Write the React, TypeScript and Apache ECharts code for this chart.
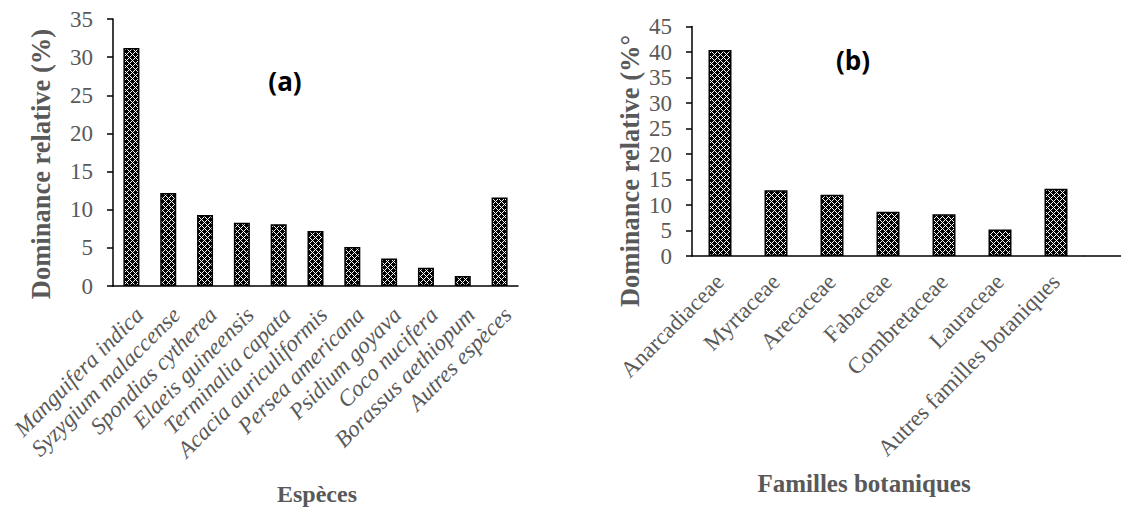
import React, { useEffect, useRef } from "react";
import * as echarts from "echarts";

const speciesCategories = [
  "Manguifera indica",
  "Syzygium malaccense",
  "Spondias cytherea",
  "Elaeis guineensis",
  "Terminalia capata",
  "Acacia auriculiformis",
  "Persea americana",
  "Psidium goyava",
  "Coco nucifera",
  "Borassus aethiopum",
  "Autres espèces",
];
const speciesValues = [31.2, 12.2, 9.3, 8.3, 8.1, 7.2, 5.1, 3.6, 2.4, 1.3, 11.6];

const familyCategories = [
  "Anarcadiaceae",
  "Myrtaceae",
  "Arecaceae",
  "Fabaceae",
  "Combretaceae",
  "Lauraceae",
  "Autres familles botaniques",
];
const familyValues = [40.4, 12.9, 12.0, 8.7, 8.2, 5.2, 13.2];

const GRAY = "#595959";
const SERIF = "'Liberation Serif', 'Times New Roman', serif";

function makePattern() {
  const size = 6;
  const c = document.createElement("canvas");
  c.width = size;
  c.height = size;
  const ctx = c.getContext("2d")!;
  ctx.fillStyle = "#000";
  ctx.fillRect(0, 0, size, size);
  ctx.fillStyle = "#fff";
  for (let x = 0; x < size; x++) {
    for (let y = 0; y < size; y++) {
      if ((x + y) % 6 === 0 || (x - y + 6) % 6 === 0) {
        ctx.fillRect(x, y, 1, 1);
      }
    }
  }
  return { image: c.toDataURL(), repeat: "repeat", imageWidth: size, imageHeight: size };
}

export default function App() {
  const ref = useRef<HTMLDivElement>(null);
  useEffect(() => {
    document.body.style.margin = "0";
    const chart = echarts.init(ref.current!, null, { renderer: "svg" });
    const pattern = makePattern();
    const valueAxis = (max: number, gridIndex: number) => ({
      type: "value",
      gridIndex,
      min: 0,
      max,
      interval: 5,
      axisLine: { show: true, lineStyle: { color: "#000", width: 1.5 } },
      axisTick: { show: true, length: 6, lineStyle: { color: "#000", width: 1.5 } },
      splitLine: { show: false },
      axisLabel: { color: GRAY, fontSize: 23, fontFamily: SERIF, margin: 20 },
    });
    const catAxis = (data: string[], gridIndex: number, italic: boolean) => ({
      type: "category",
      gridIndex,
      data,
      axisLine: { show: true, lineStyle: { color: "#000", width: 1.5 } },
      axisTick: { show: false },
      axisLabel: {
        interval: 0,
        rotate: 45,
        color: GRAY,
        fontSize: 23,
        fontStyle: italic ? "italic" : "normal",
        fontFamily: SERIF,
        margin: italic ? 17 : 22,
        verticalAlign: italic ? "top" : "middle",
        padding: italic ? [0, 0, 0, 0] : [12, 0, 0, 0],
      },
    });
    chart.setOption({
      animation: false,
      backgroundColor: "#fff",
      grid: [
        { left: 113, right: 1121 - 518, top: 19, bottom: 509 - 286 },
        { left: 692, right: 1121 - 1084, top: 26.5, bottom: 509 - 256 },
      ],
      xAxis: [catAxis(speciesCategories, 0, true), catAxis(familyCategories, 1, false)],
      yAxis: [valueAxis(35, 0), valueAxis(45, 1)],
      series: [
        {
          type: "bar",
          xAxisIndex: 0,
          yAxisIndex: 0,
          data: speciesValues,
          barWidth: 16,
          itemStyle: { color: pattern, borderColor: "#000", borderWidth: 1.5 },
        },
        {
          type: "bar",
          xAxisIndex: 1,
          yAxisIndex: 1,
          data: familyValues,
          barWidth: 23,
          itemStyle: { color: pattern, borderColor: "#000", borderWidth: 1.5 },
        },
      ],
      graphic: [
        {
          type: "line",
          shape: { x1: 1084, y1: 256, x2: 1121, y2: 256 },
          style: { stroke: "#000", lineWidth: 1.5 },
        },
        {
          type: "text",
          x: 41,
          y: 164,
          rotation: Math.PI / 2,
          style: {
            text: "Dominance relative (%)",
            fill: GRAY,
            font: `bold 26.5px ${SERIF}`,
            align: "center",
            verticalAlign: "middle",
          },
        },
        {
          type: "text",
          x: 630,
          y: 171,
          rotation: Math.PI / 2,
          style: {
            text: "Dominance relative (%°",
            fill: GRAY,
            font: `bold 26.5px ${SERIF}`,
            align: "center",
            verticalAlign: "middle",
          },
        },
        {
          type: "text",
          x: 317,
          y: 494,
          style: {
            text: "Espèces",
            fill: GRAY,
            font: `bold 24px ${SERIF}`,
            align: "center",
            verticalAlign: "middle",
          },
        },
        {
          type: "text",
          x: 864,
          y: 483,
          style: {
            text: "Familles botaniques",
            fill: GRAY,
            font: `bold 25px ${SERIF}`,
            align: "center",
            verticalAlign: "middle",
          },
        },
        {
          type: "text",
          x: 285,
          y: 81,
          style: {
            text: "(a)",
            fill: "#000",
            font: "bold 26px 'Open Sans', 'Liberation Sans', sans-serif",
            align: "center",
            verticalAlign: "middle",
          },
        },
        {
          type: "text",
          x: 853,
          y: 60,
          style: {
            text: "(b)",
            fill: "#000",
            font: "bold 26px 'Open Sans', 'Liberation Sans', sans-serif",
            align: "center",
            verticalAlign: "middle",
          },
        },
      ],
    });
    return () => chart.dispose();
  }, []);
  return <div ref={ref} style={{ width: 1121, height: 509 }} />;
}
